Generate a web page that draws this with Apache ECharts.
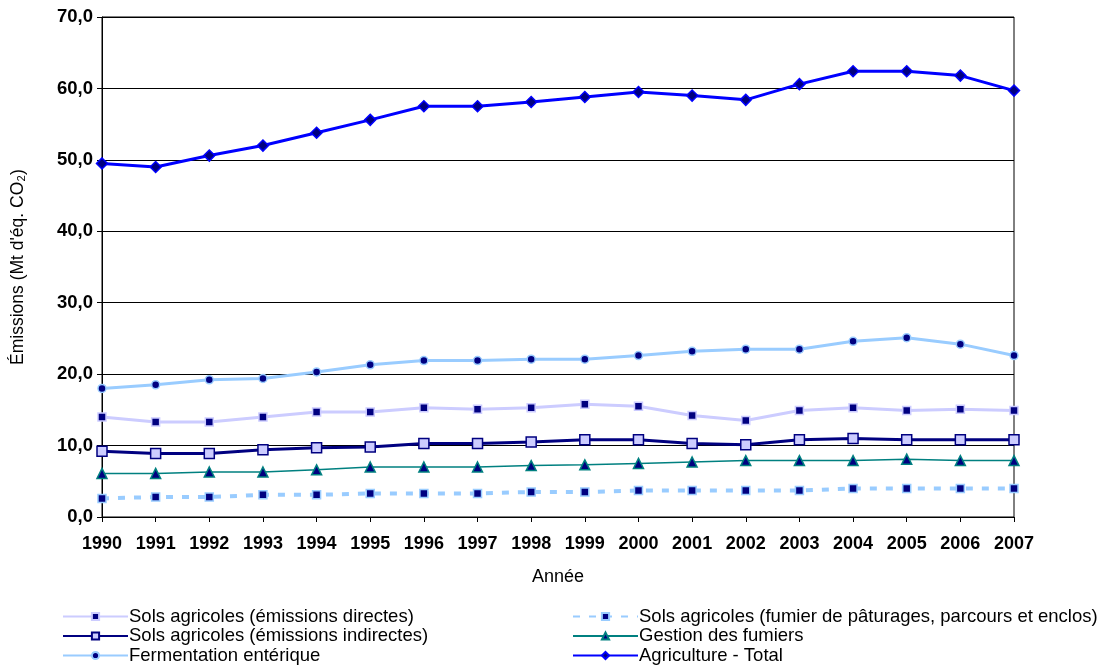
<!DOCTYPE html>
<html>
<head>
<meta charset="utf-8">
<script src="https://cdn.jsdelivr.net/npm/echarts@6/dist/echarts.min.js"></script>
<style>
  html, body { margin: 0; padding: 0; background: #fff; }
  #main { width: 1105px; height: 668px; }
</style>
</head>
<body>
<div id="main"></div>
<script>
// années
var years = ['1990','1991','1992','1993','1994','1995','1996','1997','1998','1999','2000','2001','2002','2003','2004','2005','2006','2007'];

// émissions (Mt d'éq. CO2)
var solsDirectes   = [14.0, 13.3, 13.3, 14.0, 14.7, 14.7, 15.3, 15.1, 15.3, 15.8, 15.5, 14.2, 13.5, 14.9, 15.3, 14.9, 15.1, 14.9];
var solsIndirectes = [9.2, 8.9, 8.9, 9.4, 9.7, 9.8, 10.3, 10.3, 10.5, 10.8, 10.8, 10.3, 10.1, 10.8, 11.0, 10.8, 10.8, 10.8];
var fermentation   = [18.0, 18.5, 19.2, 19.4, 20.3, 21.3, 21.9, 21.9, 22.1, 22.1, 22.6, 23.2, 23.5, 23.5, 24.6, 25.1, 24.2, 22.6];
var paturages      = [2.6, 2.8, 2.8, 3.1, 3.1, 3.3, 3.3, 3.3, 3.5, 3.5, 3.7, 3.7, 3.7, 3.7, 4.0, 4.0, 4.0, 4.0];
var fumiers        = [6.1, 6.1, 6.3, 6.3, 6.6, 7.0, 7.0, 7.0, 7.2, 7.3, 7.5, 7.7, 7.9, 7.9, 7.9, 8.1, 7.9, 7.9];
var total          = [49.5, 49.0, 50.6, 52.0, 53.8, 55.6, 57.5, 57.5, 58.1, 58.8, 59.5, 59.0, 58.4, 60.6, 62.4, 62.4, 61.8, 59.7];

var FONT = '"Liberation Sans", Arial, sans-serif';
var navy = '#000080';

var chart = echarts.init(document.getElementById('main'), null, { renderer: 'canvas' });

function serie(name, data, lineColor, lineWidth, symbol, size, fill, border, dashed) {
    return {
        name: name,
        type: 'line',
        data: data,
        symbol: symbol,
        symbolSize: size,
        showAllSymbol: true,
        animation: false,
        lineStyle: { color: lineColor, width: lineWidth, type: dashed ? [7, 9] : 'solid' },
        itemStyle: { color: fill, borderColor: border, borderWidth: 1.5 },
        color: lineColor
    };
}

var legendText = { fontSize: 18.5, color: '#000', fontFamily: FONT, padding: [0, 0, 0, -4], lineHeight: 19 };

var option = {
    animation: false,
    textStyle: { fontFamily: FONT },
    grid: {
        left: 102, right: 91, top: 17, bottom: 151,
        show: true, borderColor: '#000', borderWidth: 1
    },
    legend: [
        {
            orient: 'vertical', left: 57, top: 602, height: 70, itemWidth: 65, itemHeight: 9, itemGap: 0.5,
            textStyle: legendText,
            data: ['Sols agricoles (émissions directes)', 'Sols agricoles (émissions indirectes)', 'Fermentation entérique']
        },
        {
            orient: 'vertical', left: 567, top: 602, height: 70, itemWidth: 65, itemHeight: 9, itemGap: 0.5,
            textStyle: legendText,
            data: ['Sols agricoles (fumier de pâturages, parcours et enclos)', 'Gestion des fumiers', 'Agriculture - Total']
        }
    ],
    xAxis: {
        type: 'category',
        data: years,
        boundaryGap: false,
        name: 'Année',
        nameLocation: 'middle',
        nameGap: 51,
        nameTextStyle: { fontSize: 18, color: '#000', fontFamily: FONT },
        axisLine: { lineStyle: { color: '#000', width: 1 } },
        axisTick: { show: true, alignWithLabel: true, length: 5, lineStyle: { color: '#000' } },
        axisLabel: { fontSize: 18, fontWeight: 'bold', color: '#000', margin: 18, fontFamily: FONT, interval: 0 },
        splitLine: { show: false }
    },
    yAxis: {
        type: 'value',
        min: 0, max: 70, interval: 10,
        name: 'Émissions (Mt d\'éq. CO₂)',
        nameLocation: 'middle',
        nameGap: 75,
        nameTextStyle: { fontSize: 17.5, color: '#000', fontFamily: FONT },
        axisLine: { show: true, lineStyle: { color: '#000', width: 1 } },
        axisTick: { show: true, length: 5, lineStyle: { color: '#000' } },
        axisLabel: {
            fontSize: 18.5, fontWeight: 'bold', color: '#000', margin: 9, fontFamily: FONT,
            formatter: function (v) { return v.toFixed(1).replace('.', ','); }
        },
        splitLine: { show: true, lineStyle: { color: '#000', width: 1 } }
    },
    series: [
        serie('Sols agricoles (émissions directes)', solsDirectes, '#CCCCFF', 3, 'rect', 8, navy, '#CCCCFF'),
        serie('Sols agricoles (émissions indirectes)', solsIndirectes, navy, 3, 'rect', 10, '#CCCCFF', navy),
        serie('Fermentation entérique', fermentation, '#99CCFF', 3, 'circle', 8, navy, '#99CCFF'),
        serie('Sols agricoles (fumier de pâturages, parcours et enclos)', paturages, '#99CCFF', 4, 'rect', 8, navy, '#99CCFF', true),
        serie('Gestion des fumiers', fumiers, '#008080', 1.5, 'triangle', 10, navy, '#008080'),
        serie('Agriculture - Total', total, '#0000FF', 3, 'diamond', 11, navy, '#0000FF')
    ]
};

chart.setOption(option);
</script>
</body>
</html>
